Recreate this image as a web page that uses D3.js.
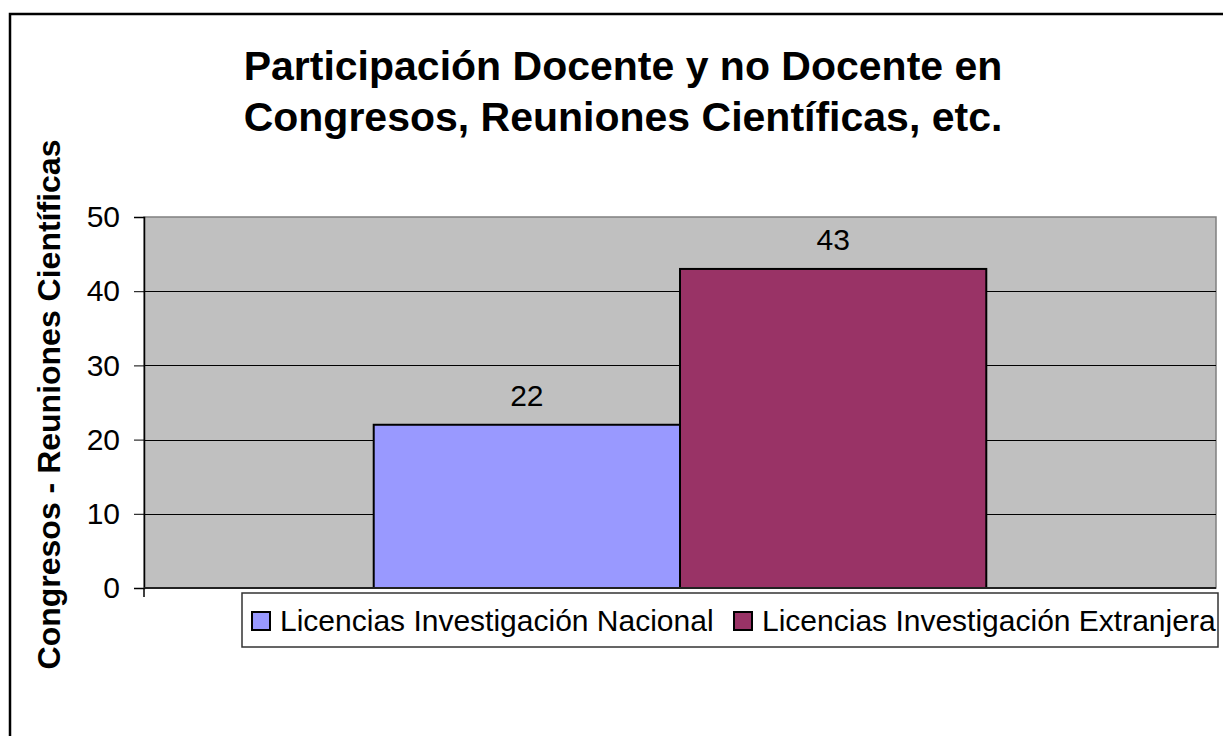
<!DOCTYPE html>
<html>
<head>
<meta charset="utf-8">
<title>Participación Docente y no Docente</title>
<script src="https://d3js.org/d3.v7.min.js"></script>
<style>
  body { margin: 0; background: #fff; }
  svg { display: block; font-family: "Liberation Sans", Arial, sans-serif; }
</style>
</head>
<body>
<svg></svg>
<script>
// data
var categories = ["Congresos"];
var series = ["Licencias Investigación Nacional", "Licencias Investigación Extranjera"];
var values = [22, 43];
var colors = ["#9999FF", "#993366"];
var yTicks = [0, 10, 20, 30, 40, 50];
var titleLines = ["Participación Docente y no Docente en", "Congresos, Reuniones Científicas, etc."];
var yTitle = "Congresos - Reuniones Científicas";

var width = 1223, height = 736;
var plot = { left: 144, right: 1216, top: 217, bottom: 588 };

var svg = d3.select("svg").attr("width", width).attr("height", height);

// outer chart border
svg.append("rect")
    .attr("x", 10).attr("y", 14)
    .attr("width", 1240).attr("height", 760)
    .attr("fill", "#fff").attr("stroke", "#000").attr("stroke-width", 2.5);

// title
svg.append("text")
    .attr("text-anchor", "middle")
    .style("font-size", "41px").style("font-weight", "bold")
    .selectAll("tspan").data(titleLines).enter().append("tspan")
    .attr("x", 623)
    .attr("y", function (d, i) { return 80 + i * 51; })
    .text(function (d) { return d; });

var x0 = d3.scaleBand().domain(categories).range([plot.left, plot.right]);
var x1 = d3.scaleBand().domain(series).range([0, x0.bandwidth()]).paddingInner(0).paddingOuter(0.75);
var y = d3.scaleLinear().domain([0, 50]).range([plot.bottom, plot.top]);

// plot background
svg.append("rect")
    .attr("x", plot.left).attr("y", plot.top)
    .attr("width", plot.right - plot.left).attr("height", plot.bottom - plot.top)
    .attr("fill", "#C0C0C0").attr("stroke", "#808080").attr("stroke-width", 1.5);

// gridlines
svg.append("g").selectAll("line").data(yTicks.filter(function (d) { return d > 0 && d < 50; }))
    .enter().append("line")
    .attr("x1", plot.left).attr("x2", plot.right)
    .attr("y1", function (d) { return Math.round(y(d)) + 0.5; })
    .attr("y2", function (d) { return Math.round(y(d)) + 0.5; })
    .attr("stroke", "#000").attr("stroke-width", 1);

// bars
var g = svg.append("g").attr("transform", "translate(" + x0(categories[0]) + ",0)");
g.selectAll("rect").data(values).enter().append("rect")
    .attr("x", function (d, i) { return x1(series[i]); })
    .attr("y", function (d) { return y(d); })
    .attr("width", x1.bandwidth())
    .attr("height", function (d) { return y(0) - y(d); })
    .attr("fill", function (d, i) { return colors[i]; })
    .attr("stroke", "#000").attr("stroke-width", 2);

g.selectAll("text").data(values).enter().append("text")
    .attr("x", function (d, i) { return x1(series[i]) + x1.bandwidth() / 2; })
    .attr("y", function (d) { return y(d) - 19; })
    .attr("text-anchor", "middle")
    .style("font-size", "30px")
    .text(function (d) { return d; });

// y axis
var yAxis = d3.axisLeft(y).tickValues(yTicks).tickSize(10).tickPadding(14);
var ya = svg.append("g").attr("transform", "translate(" + plot.left + ",0)").call(yAxis);
ya.select(".domain").attr("stroke", "#000").attr("stroke-width", 1.5);
ya.selectAll(".tick line").attr("stroke", "#000");
ya.selectAll(".tick text").style("font-size", "30px").attr("fill", "#000")
    .style("font-family", "'Liberation Sans', Arial, sans-serif");

// x axis line + edge tick
svg.append("line")
    .attr("x1", plot.left).attr("x2", plot.right)
    .attr("y1", plot.bottom).attr("y2", plot.bottom)
    .attr("stroke", "#222").attr("stroke-width", 2);
svg.append("line")
    .attr("x1", plot.left).attr("x2", plot.left)
    .attr("y1", plot.bottom).attr("y2", plot.bottom + 9)
    .attr("stroke", "#000").attr("stroke-width", 1.5);

// y title
svg.append("text")
    .attr("transform", "translate(60," + ((plot.top + plot.bottom) / 2 + 2) + ")rotate(-90)")
    .attr("text-anchor", "middle")
    .style("font-size", "32px").style("font-weight", "bold")
    .text(yTitle);

// legend
var legend = svg.append("g");
legend.append("rect")
    .attr("x", 242).attr("y", 593).attr("width", 976).attr("height", 54)
    .attr("fill", "#fff").attr("stroke", "#333").attr("stroke-width", 1.5);
var swX = [252, 734];
var items = legend.selectAll("g.item").data(series).enter().append("g").attr("class", "item");
items.append("rect")
    .attr("x", function (d, i) { return swX[i]; }).attr("y", 612)
    .attr("width", 18).attr("height", 18)
    .attr("fill", function (d, i) { return colors[i]; })
    .attr("stroke", "#000").attr("stroke-width", 2);
items.append("text")
    .attr("x", function (d, i) { return swX[i] + 28; }).attr("y", 631)
    .style("font-size", "30px")
    .text(function (d) { return d; });
</script>
</body>
</html>
